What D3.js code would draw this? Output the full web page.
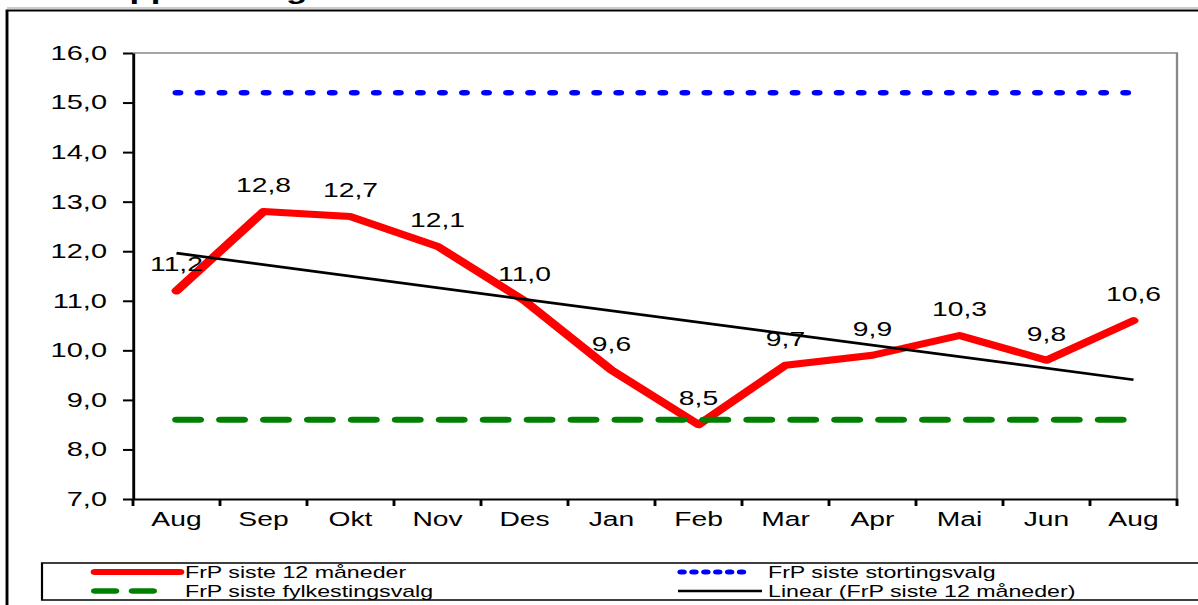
<!DOCTYPE html>
<html>
<head>
<meta charset="utf-8">
<script src="https://cdn.jsdelivr.net/npm/d3@7"></script>
<style>
  body { margin: 0; background: #fff; }
  svg { display: block; }
  text { font-family: "Liberation Sans", Arial, sans-serif; fill: #000; }
</style>
</head>
<body>
<svg id="chart"></svg>
<script>
// data
const months = ["Aug", "Sep", "Okt", "Nov", "Des", "Jan", "Feb", "Mar", "Apr", "Mai", "Jun", "Aug"];
const siste12 = [11.2, 12.8, 12.7, 12.1, 11.0, 9.6, 8.5, 9.7, 9.9, 10.3, 9.8, 10.6];
const stortingsvalg = 15.2;
const fylkestingsvalg = 8.6;
const yTicks = [7, 8, 9, 10, 11, 12, 13, 14, 15, 16];

const W = 1198, H = 605;
// the original picture is stretched sideways, so draw in narrow units and let the viewBox widen them
const SX = 1.45;
const px = v => v / SX;

const svg = d3.select("#chart")
  .attr("width", W)
  .attr("height", H)
  .attr("viewBox", `0 0 ${px(W)} ${H}`)
  .attr("preserveAspectRatio", "none");

const plot = { left: 133, right: 1177, top: 53, bottom: 499 };

const x = d3.scaleBand().domain(d3.range(months.length)).range([px(plot.left), px(plot.right)]);
const cx = i => x(i) + x.bandwidth() / 2;
const y = d3.scaleLinear().domain([7, 16]).range([plot.bottom, plot.top]);
const comma = d => d3.format(".1f")(d).replace(".", ",");

// title (cut off at the top edge, as in the source) and outer frame
svg.append("text")
  .attr("x", px(20)).attr("y", -1.5)
  .attr("font-size", 24).attr("font-weight", "bold")
  .text("FrP - oppslutning siste år");
svg.append("line")
  .attr("x1", px(7)).attr("x2", px(W + 10)).attr("y1", 8).attr("y2", 8)
  .attr("stroke", "#999").attr("stroke-width", 1);
svg.append("path")
  .attr("d", `M${px(7)},${H + 5}V10.5H${px(W + 10)}`)
  .attr("fill", "none").attr("stroke", "#000").attr("stroke-width", 2);

// plot area border (top + right, gray)
svg.append("path")
  .attr("d", `M${px(plot.left)},${plot.top}H${px(plot.right)}V${plot.bottom}`)
  .attr("fill", "none").attr("stroke", "#888").attr("stroke-width", 1.6);

// y axis
const yAxis = svg.append("g")
  .attr("transform", `translate(${px(plot.left)},0)`)
  .call(d3.axisLeft(y).tickValues(yTicks).tickSize(px(10)).tickSizeOuter(0)
    .tickPadding(px(16)).tickFormat(comma));
yAxis.select(".domain").attr("stroke-width", 2);
yAxis.selectAll(".tick line").attr("stroke-width", 2);
yAxis.selectAll("text").attr("font-size", 20).attr("font-family", null);

// x axis
const xAxis = svg.append("g")
  .attr("transform", `translate(0,${plot.bottom})`)
  .call(d3.axisBottom(x).tickSize(0).tickSizeOuter(0).tickPadding(13)
    .tickFormat(i => months[i]));
xAxis.select(".domain").attr("stroke-width", 2);
xAxis.selectAll("text").attr("font-size", 19.5).attr("font-family", null);
xAxis.selectAll(".boundary")
  .data(d3.range(months.length + 1))
  .join("line")
  .attr("class", "boundary")
  .attr("x1", i => i < months.length ? x(i) : x.range()[1])
  .attr("x2", i => i < months.length ? x(i) : x.range()[1])
  .attr("y1", 0).attr("y2", 7)
  .attr("stroke", "#000").attr("stroke-width", 2);

// FrP siste 12 måneder
const line = d3.line().x((d, i) => cx(i)).y(d => y(d));
svg.append("path")
  .datum(siste12)
  .attr("d", line)
  .attr("fill", "none").attr("stroke", "#ff0000").attr("stroke-width", 7)
  .attr("stroke-linecap", "round").attr("stroke-linejoin", "round");

// reference levels
const first = cx(0), last = cx(months.length - 1);
svg.append("line")
  .attr("x1", first).attr("x2", last)
  .attr("y1", y(stortingsvalg)).attr("y2", y(stortingsvalg))
  .attr("stroke", "#0000ff").attr("stroke-width", 5.5)
  .attr("stroke-dasharray", "2 13.2").attr("stroke-linecap", "round");
svg.append("line")
  .attr("x1", first).attr("x2", last)
  .attr("y1", y(fylkestingsvalg)).attr("y2", y(fylkestingsvalg))
  .attr("stroke", "#008000").attr("stroke-width", 6)
  .attr("stroke-dasharray", "16 14.3").attr("stroke-linecap", "round");

// linear trend of the 12-month series (least squares, like Excel)
const n = siste12.length;
const mx = d3.mean(d3.range(n)), my = d3.mean(siste12);
const slope = d3.sum(siste12, (v, i) => (i - mx) * (v - my)) / d3.sum(d3.range(n), i => (i - mx) ** 2);
const trend = i => my + slope * (i - mx);
svg.append("line")
  .attr("x1", first).attr("x2", last)
  .attr("y1", y(trend(0))).attr("y2", y(trend(n - 1)))
  .attr("stroke", "#000").attr("stroke-width", 2.7);

// data labels
svg.selectAll(".lbl")
  .data(siste12)
  .join("text")
  .attr("class", "lbl")
  .attr("x", (d, i) => cx(i))
  .attr("y", d => y(d) - 19.5)
  .attr("text-anchor", "middle")
  .attr("font-size", 19.5)
  .text(comma);

// legend
const lg = svg.append("g");
lg.append("rect")
  .attr("x", px(42)).attr("y", 563)
  .attr("width", px(W + 20 - 42)).attr("height", 37)
  .attr("fill", "#fff").attr("stroke", "#000").attr("stroke-width", 1.5);

const legendItems = [
  { label: "FrP siste 12 måneder", x0: 95, x1: 180, tx: 185, y: 572, color: "#ff0000", width: 6, dash: null, cap: "round" },
  { label: "FrP siste fylkestingsvalg", x0: 95, x1: 170, tx: 185, y: 591, color: "#008000", width: 5.5, dash: "14 12", cap: "round" },
  { label: "FrP siste stortingsvalg", x0: 681, x1: 752, tx: 768, y: 572, color: "#0000ff", width: 5, dash: "1.5 6.7", cap: "round" },
  { label: "Linear (FrP siste 12 måneder)", x0: 678, x1: 762, tx: 768, y: 591, color: "#000", width: 2.7, dash: null, cap: "butt" }
];
const item = lg.selectAll(".item").data(legendItems).join("g").attr("class", "item");
item.append("line")
  .attr("x1", d => px(d.x0)).attr("x2", d => px(d.x1))
  .attr("y1", d => d.y).attr("y2", d => d.y)
  .attr("stroke", d => d.color).attr("stroke-width", d => d.width)
  .attr("stroke-dasharray", d => d.dash).attr("stroke-linecap", d => d.cap);
item.append("text")
  .attr("x", d => px(d.tx)).attr("y", d => d.y + 6)
  .attr("font-size", 16)
  .text(d => d.label);
</script>
</body>
</html>
